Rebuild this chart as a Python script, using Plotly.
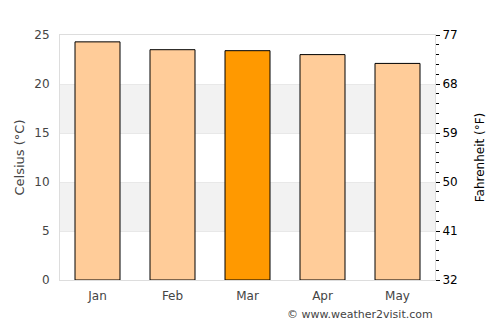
import plotly.graph_objects as go

months = ["Jan", "Feb", "Mar", "Apr", "May"]
celsius = [24.3, 23.5, 23.4, 23.0, 22.1]
colors = ["#ffcc99", "#ffcc99", "#ff9900", "#ffcc99", "#ffcc99"]
c_ticks = [0, 5, 10, 15, 20, 25]
f_ticks = [32, 41, 50, 59, 68, 77]

fig = go.Figure()
fig.add_trace(go.Bar(x=months, y=celsius, marker=dict(color=colors, line=dict(color="black", width=1)),
                     width=0.6, hoverinfo="skip"))
# invisible trace for the right axis
fig.add_trace(go.Scatter(x=months, y=[c * 9 / 5 + 32 for c in celsius], yaxis="y2",
                         mode="markers", marker=dict(opacity=0), hoverinfo="skip", showlegend=False))

for lo, hi in [(5, 10), (15, 20)]:
    fig.add_shape(type="rect", xref="paper", yref="y", x0=0, x1=1, y0=lo, y1=hi,
                  fillcolor="#f2f2f2", line=dict(width=0), layer="below")

font = dict(family="DejaVu Sans", size=12, color="#444")
fig.update_layout(
    width=500, height=325,
    margin=dict(l=60, r=65, t=35, b=45),
    paper_bgcolor="white", plot_bgcolor="white",
    showlegend=False,
    font=font,
    bargap=0.4,
    xaxis=dict(showline=True, linecolor="#dddddd", mirror=True, ticks="outside", ticklen=5,
               tickcolor="rgba(0,0,0,0)", tickfont=dict(size=12, color="#444")),
    yaxis=dict(range=[0, 25], tickvals=c_ticks, showgrid=True, gridcolor="#e8e8e8", zeroline=False,
               showline=True, linecolor="#dddddd", mirror=True, ticks="outside", ticklen=7,
               tickcolor="rgba(0,0,0,0)",
               title=dict(text="Celsius (°C)", font=dict(size=13, color="#444"), standoff=6),
               tickfont=dict(size=12, color="#444")),
    yaxis2=dict(overlaying="y", side="right", range=[32, 77], tickvals=f_ticks, showgrid=False,
                zeroline=False, ticks="outside", ticklen=4, tickcolor="black", tickwidth=1,
                minor=dict(ticks="outside", dtick=1.8, tick0=32, ticklen=3, tickcolor="black", showgrid=False),
                title=dict(text="Fahrenheit (°F)", font=dict(size=12, color="black"), standoff=18),
                tickfont=dict(size=12, color="black")),
    annotations=[dict(text="© www.weather2visit.com", xref="paper", yref="paper", x=1, y=-0.105,
                      xanchor="right", yanchor="top", showarrow=False,
                      font=dict(size=11, color="#444"))],
)
fig.write_html("out.html")
